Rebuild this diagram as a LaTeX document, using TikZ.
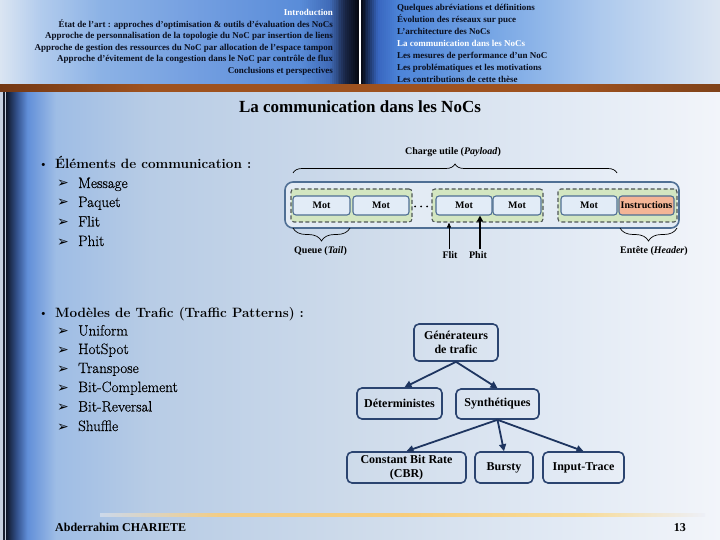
\documentclass[tikz,border=0pt]{standalone}
\usepackage{fontspec}
\setmainfont{Liberation Serif}
\newfontfamily\lmfont{Latin Modern Roman}
\newfontfamily\lmitemfont[FakeBold=0.45]{Latin Modern Roman}
\newfontfamily\djv{DejaVu Sans}
\usetikzlibrary{decorations.pathreplacing,arrows.meta,calc}

\definecolor{pktblue}{HTML}{4F6F94}
\definecolor{pktfill}{HTML}{E3EBF4}
\definecolor{grpgreen}{HTML}{D3E6C1}
\definecolor{grpgray}{HTML}{4E5656}
\definecolor{motfill}{HTML}{E2ECF7}
\definecolor{instrfill}{HTML}{F4B596}
\definecolor{treeblue}{HTML}{2B4470}
\definecolor{arrblue}{HTML}{1E3560}
\definecolor{hdrtext}{HTML}{0A0F1E}

% header gradient stops
\definecolor{lA}{rgb}{0.86,0.90,0.95}
\definecolor{lB}{rgb}{0.70,0.80,0.93}
\definecolor{lC}{rgb}{0.55,0.70,0.90}
\definecolor{lD}{rgb}{0.45,0.62,0.88}
\definecolor{lE}{rgb}{0.35,0.55,0.85}
\definecolor{lF}{rgb}{0.25,0.42,0.72}
\definecolor{lG}{rgb}{0.10,0.15,0.28}
\definecolor{lH}{rgb}{0.02,0.03,0.06}
\definecolor{rA}{rgb}{0.02,0.03,0.06}
\definecolor{rB}{rgb}{0.10,0.18,0.35}
\definecolor{rC}{rgb}{0.22,0.40,0.75}
\definecolor{rD}{rgb}{0.30,0.52,0.85}
\definecolor{rE}{rgb}{0.48,0.66,0.90}
\definecolor{rF}{rgb}{0.68,0.79,0.93}
\definecolor{rG}{rgb}{0.86,0.90,0.95}

\pgfdeclarehorizontalshading{bodysh}{100bp}{rgb(0bp)=(0.06,0.09,0.16); rgb(25bp)=(0.06,0.09,0.16); rgb(25.75bp)=(0.20,0.32,0.55); rgb(26.5bp)=(0.38,0.56,0.85); rgb(28.5bp)=(0.62,0.74,0.90); rgb(35bp)=(0.72,0.80,0.90); rgb(50bp)=(0.81,0.86,0.92); rgb(65bp)=(0.89,0.92,0.96); rgb(75bp)=(0.95,0.96,0.98); rgb(100bp)=(0.95,0.96,0.98)}
\pgfdeclarehorizontalshading{glowsh}{100bp}{rgb(0bp)=(0.80,0.85,0.92); rgb(25bp)=(0.80,0.85,0.92); rgb(35bp)=(0.95,0.80,0.52); rgb(50bp)=(0.97,0.80,0.48); rgb(65bp)=(0.97,0.86,0.60); rgb(75bp)=(0.93,0.94,0.97); rgb(100bp)=(0.93,0.94,0.97)}
\pgfdeclarehorizontalshading{barsh}{100bp}{rgb(0bp)=(0.45,0.22,0.08); rgb(25bp)=(0.45,0.22,0.08); rgb(35bp)=(0.62,0.32,0.12); rgb(65bp)=(0.62,0.32,0.12); rgb(75bp)=(0.50,0.26,0.10); rgb(100bp)=(0.50,0.26,0.10)}

\tikzset{
  hdrl/.style={anchor=base east, inner sep=0pt, text=hdrtext, font=\bfseries\fontsize{9}{10}\selectfont},
  hdrr/.style={anchor=base west, inner sep=0pt, text=hdrtext, font=\bfseries\fontsize{9}{10}\selectfont},
  hdrsel/.style={text=white},
  bhead/.style={anchor=base west, inner sep=0pt, font=\lmfont\bfseries\fontsize{13.5}{15}\selectfont},
  bitem/.style={anchor=base west, inner sep=0pt, font=\lmitemfont\fontsize{15}{17}\selectfont},
  bmark/.style={anchor=base west, inner sep=0pt, font=\djv\fontsize{14}{16}\selectfont},
  bdot/.style={anchor=base west, inner sep=0pt, font=\lmfont\fontsize{11}{13}\selectfont},
  outerbox/.style={draw=pktblue, line width=1.6pt, rounded corners=8pt, fill=pktfill, inner sep=0pt},
  grp/.style={draw=grpgray, dash pattern=on 4pt off 2.5pt, line width=1.1pt, fill=grpgreen, rounded corners=3pt, inner sep=0pt},
  mot/.style={draw=pktblue, line width=1.1pt, fill=motfill, rounded corners=3pt, inner sep=0pt, minimum height=19pt, font=\bfseries\fontsize{10}{11}\selectfont},
  plabel/.style={inner sep=0pt, font=\bfseries\fontsize{10}{11}\selectfont},
  brc/.style={decorate, decoration={brace, amplitude=9pt}, line width=0.7pt, black},
  brcb/.style={decorate, decoration={brace, amplitude=13pt}, line width=0.7pt, black},
  tbox/.style={draw=treeblue, line width=1.6pt, rounded corners=5pt, align=center, inner sep=0pt, font=\bfseries\fontsize{12}{14.5}\selectfont},
  tarr/.style={draw=arrblue, line width=1.8pt, -{Triangle[length=7pt,width=7pt]}},
}

\begin{document}
\begin{tikzpicture}[x=1pt,y=-1pt]
\useasboundingbox (0,0) rectangle (720,540);

% backgrounds
\shade[shading=bodysh] (6,92) rectangle (720,540);
\fill[fill={rgb,1:red,0.78;green,0.82;blue,0.88}] (0,92) rectangle (6,540);
\fill[fill={rgb,1:red,0.10;green,0.12;blue,0.18}] (3,92) rectangle (4.8,540);
% header gradients drawn as thin strips
\foreach \xa/\xb/\ca/\cb in {0/40/lA/lB, 40/100/lB/lC, 100/200/lC/lD, 200/300/lD/lE, 300/330/lE/lF, 330/345/lF/lG, 345/358.5/lG/lH, 361/368/rA/rB, 368/378/rB/rC, 378/400/rC/rD, 400/500/rD/rE, 500/600/rE/rF, 600/720/rF/rG}{
  \pgfmathtruncatemacro{\n}{max(1,ceil((\xb-\xa)/2))}
  \foreach \i in {1,...,\n}{
    \pgfmathsetmacro{\p}{100*(\i-0.5)/\n}
    \pgfmathsetmacro{\xl}{\xa+(\xb-\xa)*(\i-1)/\n}
    \pgfmathsetmacro{\xr}{min(\xb,\xa+(\xb-\xa)*\i/\n+0.4)}
    \fill[\cb!\p!\ca] (\xl,0) rectangle (\xr,86);
  }
}
\fill[white] (358.5,0) rectangle (361,86);
\shade[shading=barsh] (0,85) rectangle (720,92);
\shade[shading=glowsh] (100,513.5) rectangle (705,516.5);

% header left
\node[hdrl, hdrsel] (h1) at (333,16) {Introduction};
\node[hdrl] (h2) at (333,27.5) {État de l'art : approches d'optimisation \& outils d'évaluation des NoCs};
\node[hdrl] (h3) at (333,39) {Approche de personnalisation de la topologie du NoC par insertion de liens};
\node[hdrl] (h4) at (333,50.5) {Approche de gestion des ressources du NoC par allocation de l'espace tampon};
\node[hdrl] (h5) at (333,62) {Approche d'évitement de la congestion dans le NoC par contrôle de flux};
\node[hdrl] (h6) at (333,73.5) {Conclusions et perspectives};

% header right
\node[hdrr] (r1) at (397,11) {Quelques abréviations et définitions};
\node[hdrr] (r2) at (397,23) {Évolution des réseaux sur puce};
\node[hdrr] (r3) at (397,35) {L'architecture des NoCs};
\node[hdrr, hdrsel] (r4) at (397,47) {La communication dans les NoCs};
\node[hdrr] (r5) at (397,59) {Les mesures de performance d'un NoC};
\node[hdrr] (r6) at (397,71) {Les problématiques et les motivations};
\node[hdrr] (r7) at (397,83) {Les contributions de cette thèse};

% title
\node[inner sep=0pt, font=\bfseries\fontsize{17}{19}\selectfont] (title) at (360,107) {La communication dans les NoCs};

% bullets
\node[bdot] (d1) at (39,168) {•};
\node[bhead] (b1) at (55,169) {Éléments de communication :};
\foreach \y/\t [count=\i] in {188/Message, 207/Paquet, 226.5/Flit, 246/Phit}{
  \node[bmark] (ma\i) at (57,\y) {➢};
  \node[bitem] (ia\i) at (78,\y) {\t};
}
\node[bdot] (d2) at (39,316) {•};
\node[bhead] (b2) at (55,317) {Modèles de Trafic (Traffic Patterns) :};
\foreach \y/\t [count=\i] in {335.5/Uniform, 354/HotSpot, 373/Transpose, 392/Bit-Complement, 411.5/Bit-Reversal, 431/Shuffle}{
  \node[bmark] (mb\i) at (57,\y) {➢};
  \node[bitem] (ib\i) at (78,\y) {\t};
}

% packet diagram
\node[outerbox, minimum width=394pt, minimum height=46pt] (pkt) at (482,205) {};
\node[grp, minimum width=121pt, minimum height=33pt] (g1) at (351.5,205.5) {};
\node[grp, minimum width=111pt, minimum height=33pt] (g2) at (487.5,205.5) {};
\node[grp, minimum width=119pt, minimum height=33pt] (g3) at (617.5,205.5) {};
\node[mot, minimum width=57pt] (m1) at (321.5,205.5) {Mot};
\node[mot, minimum width=56pt] (m2) at (381,205.5) {Mot};
\node[mot, minimum width=56pt] (m3) at (464,205.5) {Mot};
\node[mot, minimum width=48pt] (m4) at (517,205.5) {Mot};
\node[mot, minimum width=56pt] (m5) at (589,205.5) {Mot};
\node[mot, minimum width=55pt, fill=instrfill] (m6) at (646.5,205.5) {Instructions};
\foreach \x in {415,421,427}{\fill (\x,206.5) circle (1pt);}

\coordinate (cl) at (293,173);
\coordinate (cr) at (617,173);
\draw[brc] (cl) -- (cr);
\node[plabel] (payload) at (453,152) {Charge utile (\textit{Payload})};

\coordinate (ql) at (293,228);
\coordinate (qr) at (350,228);
\draw[brcb] (qr) -- (ql);
\node[plabel] (queue) at (320.5,251) {Queue (\textit{Tail})};

\coordinate (el) at (620,228);
\coordinate (er) at (677,228);
\draw[brcb] (er) -- (el);
\node[plabel] (entete) at (654,251) {Entête (\textit{Header})};

\node[plabel] (flit) at (450,255) {Flit};
\node[plabel] (phit) at (478,255) {Phit};
\coordinate (flitbase) at ($(flit.north)+(-1,-2)$);
\coordinate (phitbase) at ($(phit.north)+(2,-2)$);
\draw[line width=0.8pt, -{Triangle[length=5pt,width=4pt]}] (flitbase) -- (flitbase |- g2.south);
\draw[line width=2.2pt, -{Triangle[length=6pt,width=6pt]}] (phitbase) -- (phitbase |- m3.south);

% tree
\node[tbox, minimum width=84pt, minimum height=37pt] (gen) at (456,342.5) {Générateurs\\de trafic};
\node[tbox, minimum width=85pt, minimum height=31pt] (det) at (399.5,403.5) {Déterministes};
\node[tbox, minimum width=83pt, minimum height=30pt] (syn) at (497.5,404) {Synthétiques};
\node[tbox, minimum width=119pt, minimum height=31pt] (cbr) at (406.5,467.5) {Constant Bit Rate\\(CBR)};
\node[tbox, minimum width=58pt, minimum height=31pt] (bur) at (504,467.5) {Bursty};
\node[tbox, minimum width=81pt, minimum height=31pt] (inp) at (583.5,467.5) {Input-Trace};
\draw[tarr] (gen.south) -- ($(det.north)+(5,0)$);
\draw[tarr] (gen.south) -- (syn.north);
\draw[tarr] (syn.south) -- (cbr.north);
\draw[tarr] (syn.south) -- (bur.north);
\draw[tarr] (syn.south) -- (inp.north);

% footer
\node[anchor=base west, inner sep=0pt, font=\bfseries\fontsize{12}{14}\selectfont] (author) at (55,531) {Abderrahim CHARIETE};
\node[anchor=base east, inner sep=0pt, font=\bfseries\fontsize{12}{14}\selectfont] (page) at (686,531) {13};
\end{tikzpicture}
\end{document}
